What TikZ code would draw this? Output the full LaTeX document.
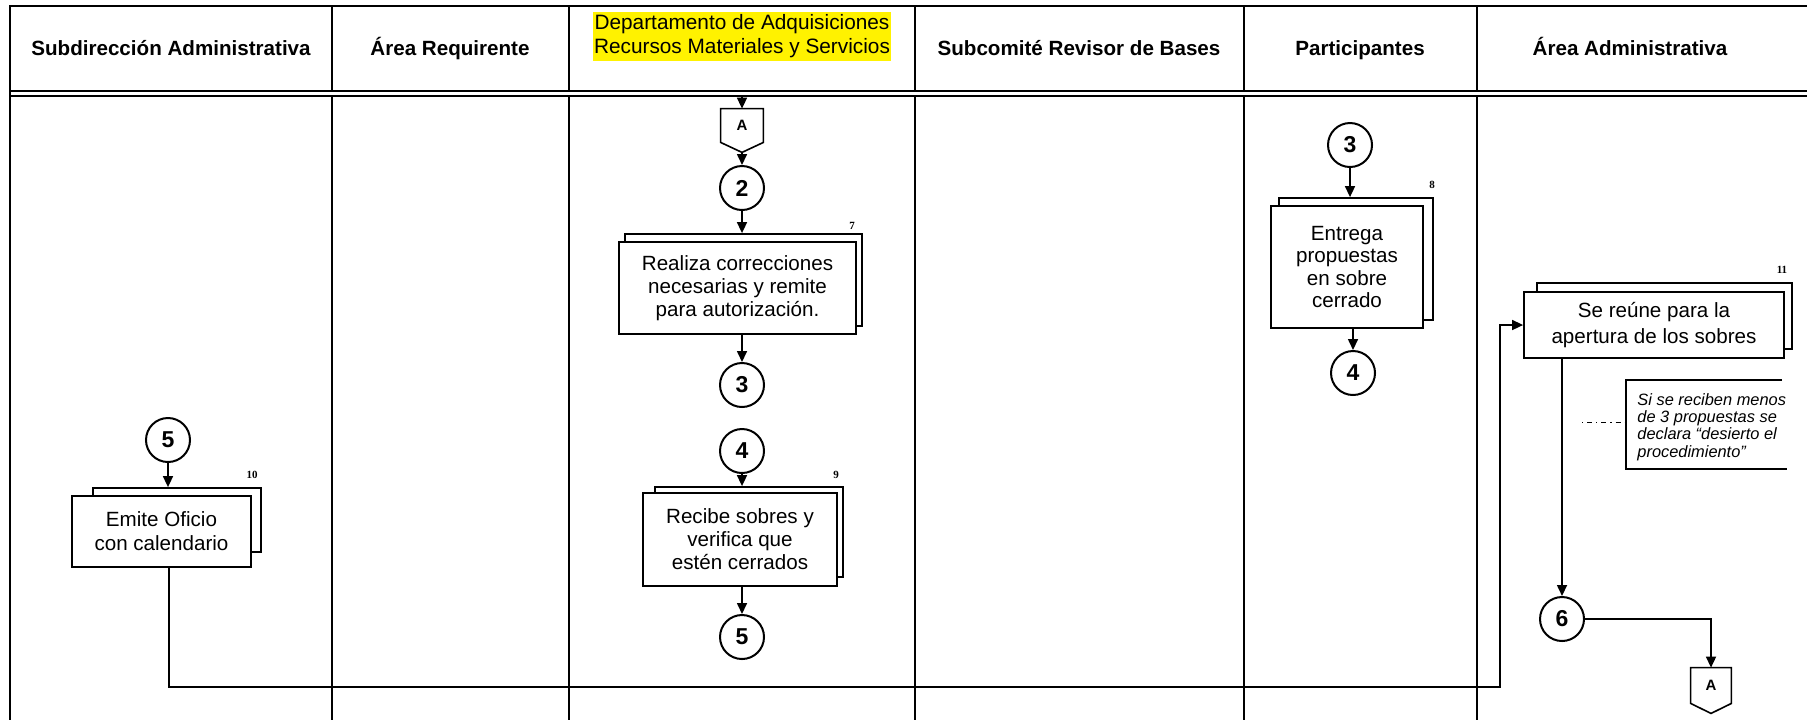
\documentclass[tikz,border=0pt]{standalone}
\usepackage{fontspec}
\setmainfont{Liberation Sans}
\newfontfamily\serifnum{Liberation Serif}
\usetikzlibrary{arrows.meta}
\begin{document}
\begin{tikzpicture}[x=0.5pt,y=-0.5pt,
  lane/.style={line width=1pt},
  divline/.style={line width=0.7pt},
  hdr/.style={font=\fontsize{10.3}{12}\selectfont\bfseries, align=center, inner sep=0pt, anchor=base},
  hl/.style={fill=yellow, inner xsep=0.6pt, inner ysep=0pt, minimum height=12.3pt, font=\fontsize{10.4}{12}\selectfont},
  conn/.style={circle, draw, line width=1pt, minimum size=22pt, inner sep=0pt, fill=white, font=\fontsize{11.5}{12}\selectfont\bfseries},
  proc/.style={draw, line width=0.9pt, fill=white, align=center, inner sep=0pt, font=\fontsize{10.3}{11.5}\selectfont},
  backbox/.style={draw, line width=0.9pt, fill=white, inner sep=0pt},
  num/.style={font=\serifnum\bfseries\fontsize{5.5}{6}\selectfont, inner sep=0pt},
  arr/.style={line width=0.8pt, -{Triangle[length=5.5pt,width=5pt]}},
  plain/.style={line width=0.8pt},
  offp/.style={minimum width=21pt, minimum height=16.5pt, inner sep=0pt, font=\fontsize{7.5}{8}\selectfont\bfseries},
  pent/.style={line width=0.8pt},
  notetext/.style={font=\itshape\fontsize{8.2}{8.7}\selectfont, align=left, anchor=west, inner sep=0pt},
]
\useasboundingbox (0,0) rectangle (1807,720);

% ---------- swimlanes ----------
\draw[lane] (9,5.5) -- (1807,5.5);
\draw[lane] (9,90.5) -- (1807,90.5);
\draw[lane] (9,95.5) -- (1807,95.5);
\draw[lane] (9.5,5) -- (9.5,720);
\foreach \x in {332,569,915,1244,1477} {
  \draw[divline] (\x,5.5) -- (\x,90.5);
  \draw[divline] (\x,95.5) -- (\x,720);
}

% ---------- headers ----------
\node[hdr] (h1) at (171,55) {Subdirección Administrativa};
\node[hdr] (h2) at (450,55) {Área Requirente};
\node[hl] (h3a) at (742,24.5) {Departamento de Adquisiciones};
\node[hl] (h3b) at (742,48.5) {Recursos Materiales y Servicios};
\node[hdr] (h4) at (1079,55) {Subcomité Revisor de Bases};
\node[hdr] (h5) at (1360,55) {Participantes};
\node[hdr] (h6) at (1630,55) {Área Administrativa};

% ---------- Departamento column ----------
\coordinate (topA) at (742,95.5);
\node[offp] (A1) at (742,125.5) {A};
\draw[pent] (A1.north west) -- (A1.north east) -- (A1.south east) -- ([yshift=-5pt]A1.south) -- (A1.south west) -- cycle;
\node[conn] (d2) at (742,188) {2};
\node[backbox, minimum width=118.5pt, minimum height=46pt] (b7s) at (743.5,280) {};
\node[proc, minimum width=118.5pt, minimum height=46pt] (b7) at (737.5,288) {Realiza correcciones\\necesarias y remite\\para autorización.};
\node[num] (n7) at (852,226) {7};
\node[conn] (d3) at (742,385) {3};
\node[conn] (d4) at (742,451) {4};
\node[backbox, minimum width=94pt, minimum height=45pt] (b9s) at (749,532) {};
\node[proc, minimum width=97pt, minimum height=46.5pt] (b9) at (740,539.5) {Recibe sobres y\\verifica que\\estén cerrados};
\node[num] (n9) at (836,475) {9};
\node[conn] (d5) at (742,637) {5};

\draw[arr] (topA) -- (A1.north);
\draw[arr] ([yshift=-5pt]A1.south) -- (d2.north);
\draw[arr] (d2.south) -- (d2.south |- b7s.north);
\draw[arr] (b7.south -| d3) -- (d3.north);
\draw[arr] (d4.south) -- (d4.south |- b9s.north);
\draw[arr] (b9.south -| d5) -- (d5.north);

% ---------- Participantes column ----------
\node[conn] (p3) at (1350,145) {3};
\node[backbox, minimum width=77pt, minimum height=61pt] (b8s) at (1356,259) {};
\node[proc, minimum width=76pt, minimum height=61pt, font=\fontsize{10.3}{11}\selectfont] (b8) at (1347,267) {Entrega\\propuestas\\en sobre\\cerrado};
\node[num] (n8) at (1432,185) {8};
\node[conn] (p4) at (1353,373) {4};
\draw[arr] (p3.south) -- (p3.south |- b8s.north);
\draw[arr] (b8.south -| p4) -- (p4.north);

% ---------- Subdireccion column ----------
\node[conn] (s5) at (168,440) {5};
\node[backbox, minimum width=84pt, minimum height=32pt] (b10s) at (177,520) {};
\node[proc, minimum width=89.5pt, minimum height=35.5pt, font=\fontsize{10.3}{12}\selectfont] (b10) at (161.5,531.5) {Emite Oficio\\con calendario};
\node[num] (n10) at (252,475) {10};
\draw[arr] (s5.south) -- (s5.south |- b10s.north);

% ---------- Area Administrativa column ----------
\node[backbox, minimum width=127.5pt, minimum height=33pt] (b11s) at (1664.5,316) {};
\node[proc, minimum width=130pt, minimum height=33pt, font=\fontsize{10.3}{13}\selectfont] (b11) at (1654,325) {Se reúne para la\\apertura de los sobres};
\node[num] (n11) at (1782,270) {11};
\node[conn] (a6) at (1562,619) {6};
\node[offp, minimum width=20pt, minimum height=17.5pt] (A2) at (1711,685.5) {A};
\draw[pent] (A2.north west) -- (A2.north east) -- (A2.south east) -- ([yshift=-5pt]A2.south) -- (A2.south west) -- cycle;

\coordinate (k1) at (169,687);
\coordinate (k2) at (1500,687);
\draw[arr] (b10.south -| k1) -- (k1) -- (k2) -- (k2 |- b11.west) -- (b11.west);
\draw[arr] (b11.south -| a6) -- (a6.north);
\draw[arr] (a6.east) -| (A2.north);

% ---------- annotation ----------
\node[notetext] (note) at (1637,427) {Si se reciben menos\\de 3 propuestas se\\declara “desierto el\\procedimiento”};
\coordinate (nt) at (1626,380);
\coordinate (nb) at (1626,469);
\coordinate (nm) at (1626,422);
\coordinate (nd) at (1582,422);
\draw[plain] (1782,380) -- (nt) -- (nb) -- (1787,469);
\draw[line width=0.4pt, dash pattern=on 0.6pt off 2pt on 2.5pt off 2pt] (nd) -- (nm);
\end{tikzpicture}
\end{document}
